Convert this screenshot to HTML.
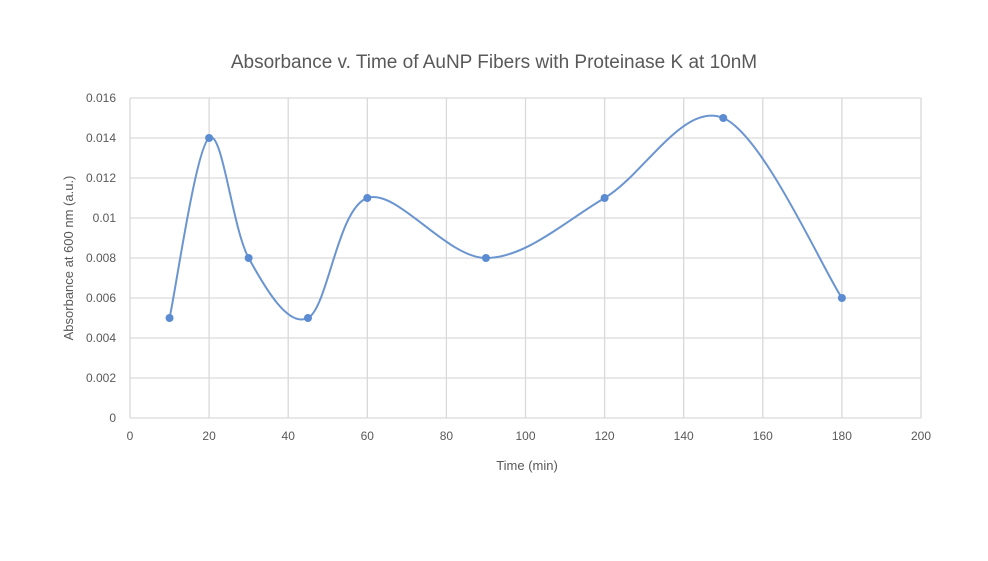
<!DOCTYPE html>
<html><head><meta charset="utf-8"><style>
body{margin:0;background:#fff;}
svg{display:block;font-family:"Liberation Sans",sans-serif;}
</style></head><body>
<svg id="s" width="988" height="561" viewBox="0 0 988 561" xmlns="http://www.w3.org/2000/svg">
<rect width="988" height="561" fill="#fff"/>
<text x="494" y="68" text-anchor="middle" font-size="19" fill="#595959">Absorbance v. Time of AuNP Fibers with Proteinase K at 10nM</text>
<g id="grid" stroke="#d9d9d9" stroke-width="1.3"></g>
<g id="lab" font-size="12" fill="#595959"></g>
<text x="527" y="470" text-anchor="middle" font-size="13" fill="#595959">Time (min)</text>
<text transform="translate(73,258) rotate(-90)" text-anchor="middle" font-size="13" fill="#595959">Absorbance at 600 nm (a.u.)</text>
<path id="ln" fill="none" stroke="#6b95d0" stroke-width="2"/>
<g id="pts" fill="#5b8bd0"></g>
</svg>
<script>
var X=function(v){return 130+v*(791/200)},Y=function(v){return 418-v*20000};
var g=document.getElementById('grid'),l=document.getElementById('lab'),NS='http://www.w3.org/2000/svg';
function el(p,t,a,txt){var e=document.createElementNS(NS,t);for(var k in a)e.setAttribute(k,a[k]);if(txt!=null)e.textContent=txt;p.appendChild(e);}
for(var i=0;i<=8;i++){var y=Y(i*0.002);el(g,'line',{x1:130,x2:921,y1:y,y2:y});el(l,'text',{x:116,y:y+4,'text-anchor':'end'},i==0?'0':(i*0.002).toFixed(3).replace(/0+$/,''));}
for(var i=0;i<=10;i++){var x=X(i*20);el(g,'line',{x1:x,x2:x,y1:98,y2:418});el(l,'text',{x:x,y:440,'text-anchor':'middle'},String(i*20));}
var d=[[10,.005],[20,.014],[30,.008],[45,.005],[60,.011],[90,.008],[120,.011],[150,.015],[180,.006]].map(function(p){return[X(p[0]),Y(p[1])]});
var s='M'+d[0][0]+','+d[0][1];
for(var i=0;i<d.length-1;i++){var p0=d[Math.max(0,i-1)],p1=d[i],p2=d[i+1],p3=d[Math.min(d.length-1,i+2)];
s+=' C'+(p1[0]+(p2[0]-p0[0])/6)+','+(p1[1]+(p2[1]-p0[1])/6)+' '+(p2[0]-(p3[0]-p1[0])/6)+','+(p2[1]-(p3[1]-p1[1])/6)+' '+p2[0]+','+p2[1];}
document.getElementById('ln').setAttribute('d',s);
var pt=document.getElementById('pts');d.forEach(function(p){el(pt,'circle',{cx:p[0],cy:p[1],r:4});});
</script>
</body></html>
